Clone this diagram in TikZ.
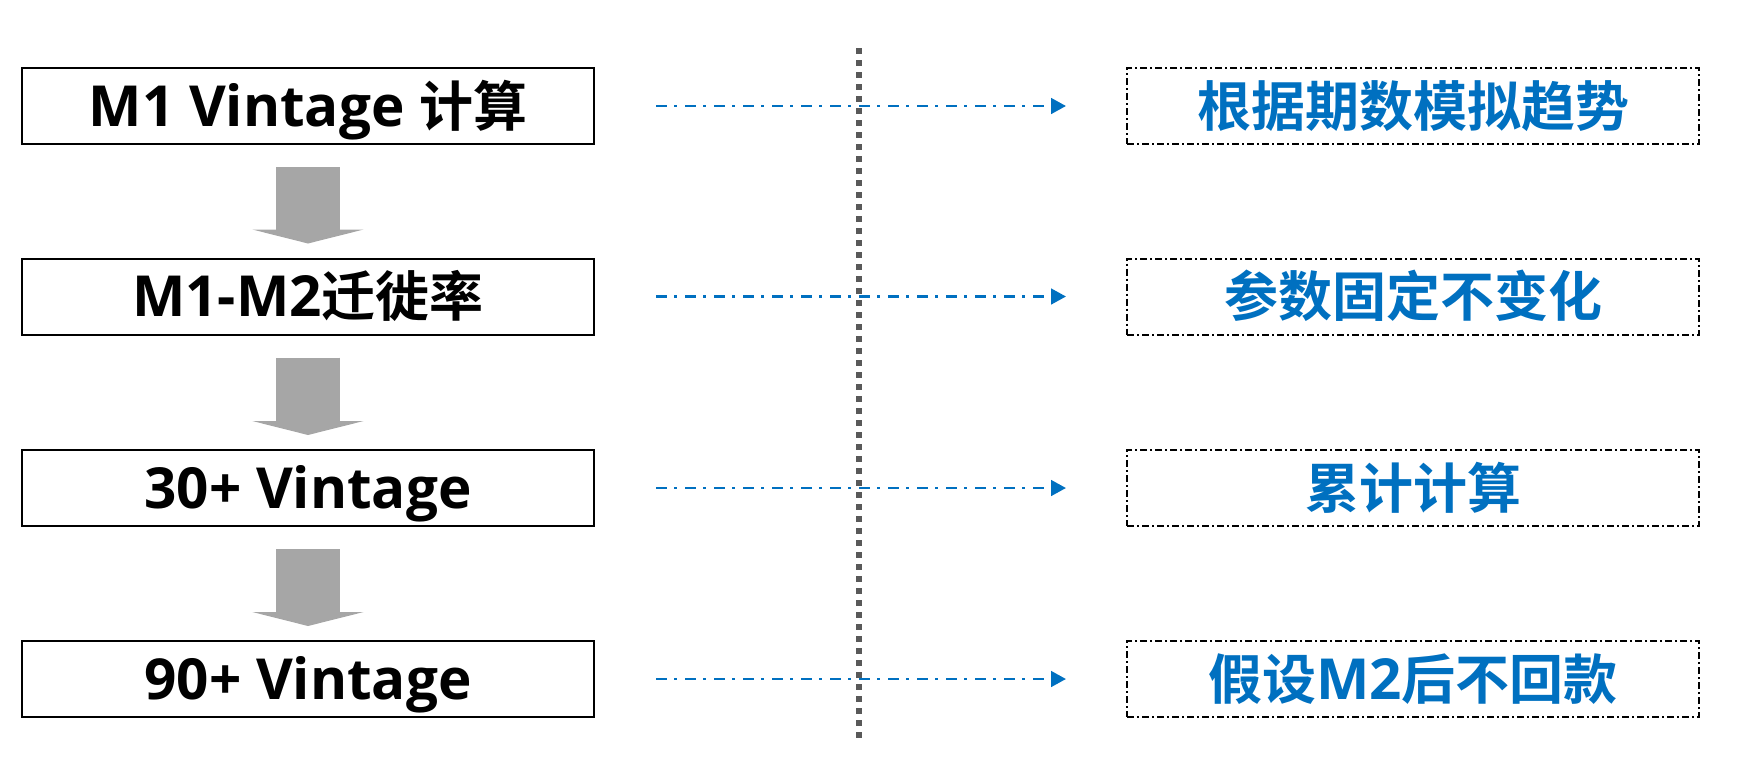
\documentclass[tikz,border=0pt]{standalone}
\usepackage{fontspec}
\setmainfont{Open Sans}
\newfontfamily\cjk{Noto Sans CJK SC}[BoldFont={Noto Sans CJK SC Bold},Scale=0.954]
\usetikzlibrary{arrows.meta}
\definecolor{flowblue}{RGB}{0,112,192}
\definecolor{arrowgray}{RGB}{166,166,166}
\definecolor{splitgray}{RGB}{89,89,89}
\newcommand{\hz}[1]{{\cjk\bfseries #1}}

\begin{document}
\begin{tikzpicture}[x=0.5pt,y=-0.5pt,
  stepbox/.style={draw,line width=1pt,minimum width=286pt,minimum height=38pt,inner sep=0pt,
    text height=25pt,text depth=5pt,font=\fontsize{28.3}{31}\selectfont\bfseries},
  notebox/.style={stepbox,dash pattern=on 3.5pt off 1.5pt on 1pt off 1.5pt,text=flowblue},
  downarrow/.style={arrowgray,line width=32pt,-{Triangle[length=7pt,width=55.5pt]}},
  hint/.style={flowblue,line width=1.4pt,dash pattern=on 5.5pt off 3.5pt on 1.5pt off 4pt,
    -{Triangle[length=7.5pt,width=7.8pt]}}]
\useasboundingbox (0,0) rectangle (1738,778);
% left column
\node[stepbox] (m1)  at (308,106)   {M1 Vintage \hz{计算}};
\node[stepbox] (mig) at (308,296.5) {M1-M2\hz{迁徙率}};
\node[stepbox] (v30) at (308,488)   {30+ Vintage};
\node[stepbox] (v90) at (308,679)   {90+ Vintage};
% right column
\node[notebox] (trend)   at (1413,106)   {\hz{根据期数模拟趋势}};
\node[notebox] (fixed)   at (1413,296.5) {\hz{参数固定不变化}};
\node[notebox] (cum)     at (1413,488)   {\hz{累计计算}};
\node[notebox] (norepay) at (1413,679)   {\hz{假设}M2\hz{后不回款}};
% divider
\coordinate (divtop) at (859,48);
\coordinate (divbot) at (859,743);
\draw[splitgray,line width=3pt,dash pattern=on 3pt off 3pt] (divtop) -- (divbot);
% connectors
\foreach \a/\b in {m1/mig,mig/v30,v30/v90}
  \draw[downarrow] ([yshift=-11pt]\a.south) -- ([yshift=7pt]\b.north);
\foreach \a/\b in {m1/trend,mig/fixed,v30/cum,v90/norepay}
  \draw[hint] ([xshift=30.5pt]\a.east) -- ([xshift=-30pt]\b.west);
\end{tikzpicture}
\end{document}
